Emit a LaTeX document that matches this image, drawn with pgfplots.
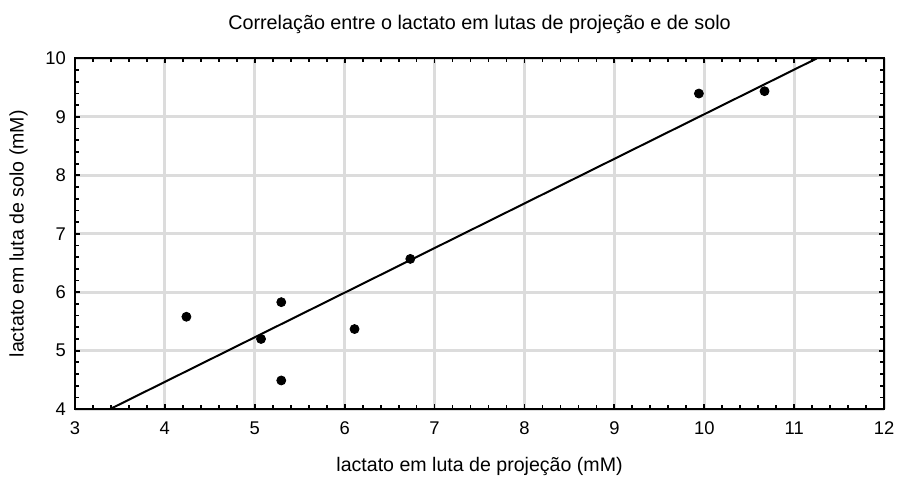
\documentclass[border=0pt]{standalone}
\usepackage{pgfplots}
\pgfplotsset{compat=1.18}
\usepackage{fontspec}
\setmainfont{Liberation Sans}
\definecolor{gridgray}{HTML}{DCDCDC}
\begin{document}
\begin{tikzpicture}
\begin{axis}[
	scale only axis,
	width=405pt, height=175.5pt,
	xmin=3, xmax=12, ymin=4, ymax=10,
	xtick={3,...,12}, ytick={4,...,10},
	minor x tick num=4, minor y tick num=4,
	tick align=inside,
	major tick length=2.5pt, minor tick length=2pt,
	every tick/.style={black, line width=0.9pt},
	axis line style={line width=1pt},
	grid=major,
	major grid style={gridgray, line width=1.4pt},
	/pgf/number format/assume math mode=true,
	tick label style={font=\fontsize{9.2}{11}\selectfont},
	xticklabel style={yshift=-3pt},
	yticklabel style={xshift=-1pt},
	title={Correlação entre o lactato em lutas de projeção e de solo},
	title style={font=\fontsize{9.9}{12}\selectfont, yshift=3pt},
	xlabel={lactato em luta de projeção (mM)},
	ylabel={lactato em luta de solo (mM)},
	label style={font=\fontsize{9.8}{12}\selectfont},
	xlabel style={yshift=-4pt},
	ylabel style={yshift=2pt},
	clip=true,
]
\addplot[black, line width=1pt] coordinates {(3.39,4) (11.25,10)};
\addplot[only marks, mark=*, mark size=2.25pt, black] coordinates {
	(4.24,5.58) (5.07,5.20) (5.295,5.83) (5.295,4.49)
	(6.11,5.37) (6.73,6.57) (9.94,9.40) (10.67,9.44)
};
\coordinate (bl) at (rel axis cs:-0.0926,-0.1866);
\coordinate (tr) at (rel axis cs:1.0198,1.1667);
\end{axis}
\path (bl) rectangle (tr);
\end{tikzpicture}
\end{document}
